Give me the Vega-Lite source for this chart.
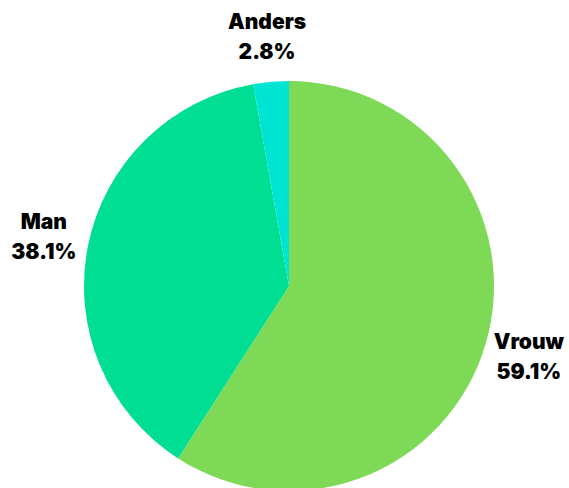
{
  "$schema": "https://vega.github.io/schema/vega-lite/v6.json",
  "width": 578,
  "height": 572,
  "autosize": {"type": "none"},
  "padding": 0,
  "background": "white",
  "view": {"stroke": null},
  "data": {"values": [
    {"cat": "Vrouw", "value": 59.1, "o": 1, "label": "Vrouw\n59.1%"},
    {"cat": "Man", "value": 38.1, "o": 2, "label": "Man\n38.1%"},
    {"cat": "Anders", "value": 2.8, "o": 3, "label": "Anders\n2.8%"}
  ]},
  "encoding": {
    "theta": {"field": "value", "type": "quantitative", "stack": true},
    "order": {"field": "o", "type": "quantitative"}
  },
  "layer": [
    {
      "mark": {"type": "arc", "outerRadius": 205},
      "encoding": {
        "color": {"field": "cat", "type": "nominal", "legend": null,
          "scale": {"domain": ["Vrouw", "Man", "Anders"], "range": ["#7ED957", "#00DE94", "#00E5D3"]}}
      }
    },
    {
      "mark": {"type": "text", "radius": 250, "dy": -14, "lineBreak": "\n", "font": "Inter", "fontWeight": 900, "fontSize": 21, "lineHeight": 30, "color": "#000000", "align": "center", "baseline": "middle"},
      "encoding": {"text": {"field": "label", "type": "nominal"}}
    }
  ]
}
